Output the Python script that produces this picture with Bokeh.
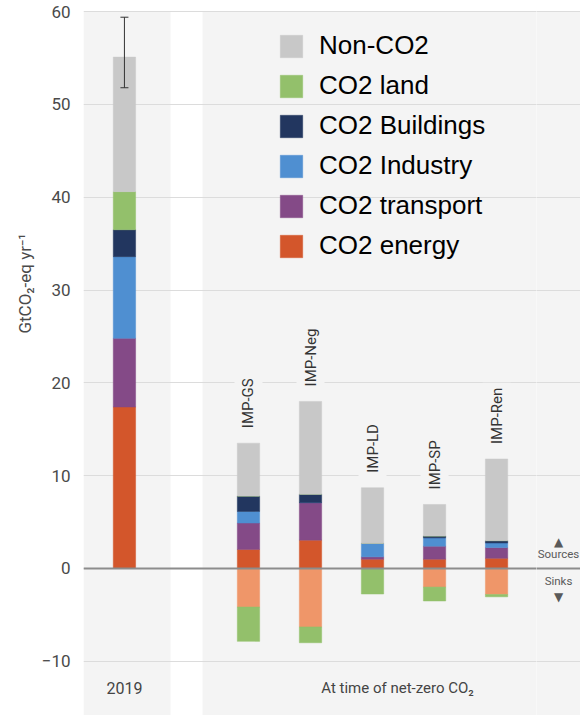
import numpy as np
from bokeh.plotting import figure
from bokeh.models import (FactorRange, Range1d, FixedTicker, Span, BoxAnnotation, Legend,
                          LegendItem, ColumnDataSource, Whisker, TeeHead, Label, Title)
from bokeh.layouts import row
from bokeh.embed import file_html
from bokeh.resources import INLINE
from bokeh.core.properties import value

# ---------------- data ----------------
categories    = ["2019", "IMP-GS", "IMP-Neg", "IMP-LD", "IMP-SP", "IMP-Ren"]
co2_energy    = [17.4, 2.05, 3.05, 1.00, 1.00, 1.10]
co2_transport = [7.4, 2.85, 4.05, 0.25, 1.40, 1.15]
co2_industry  = [8.8, 1.25, 0.00, 1.45, 0.90, 0.50]
co2_buildings = [2.9, 1.65, 0.90, 0.00, 0.20, 0.25]
co2_land      = [4.1, 0.00, 0.00, 0.00, 0.00, 0.00]
non_co2       = [14.5, 5.70, 10.0, 6.00, 3.40, 8.80]
sink_energy   = [0.0, -4.15, -6.30, 0.00, -2.00, -2.80]
sink_land     = [0.0, -3.70, -1.70, -2.75, -1.50, -0.25]
err_low  = [51.8]
err_high = [59.4]
y_ticks = [-10, 0, 10, 20, 30, 40, 50, 60]
legend_labels = ["Non-CO2", "CO2 land", "CO2 Buildings", "CO2 Industry", "CO2 transport", "CO2 energy"]

# ---------------- styles ----------------
C_NON = "#c8c8c8"
C_LAND = "#93c06b"
C_BLD = "#22365f"
C_IND = "#4f8fd1"
C_TRA = "#844a87"
C_ENE = "#d3562b"
C_ENE_SINK = "#ef9669"
PANEL = "#f4f4f4"
GRID = "#dcdcdc"
FONT = "Roboto"
PANEL_TOP = 60

slots = [categories[0], " "] + categories[1:]

totals = [a + b + c + d + e + f for a, b, c, d, e, f in
          zip(co2_energy, co2_transport, co2_industry, co2_buildings, co2_land, non_co2)]

src = ColumnDataSource(dict(cat=categories, energy=co2_energy, transport=co2_transport,
                            industry=co2_industry, buildings=co2_buildings, land=co2_land,
                            nonco2=non_co2, s_energy=sink_energy, s_land=sink_land,
                            total=totals))

p = figure(width=537, height=715,
           x_range=FactorRange(factors=slots, range_padding=0.16, range_padding_units="absolute"),
           y_range=Range1d(-15.84, 61.2),
           x_axis_location=None, output_backend="svg", toolbar_location=None,
           min_border_left=83, min_border_right=0, min_border_top=0, min_border_bottom=0,
           background_fill_color="white", border_fill_color="white", outline_line_color=None)

# grey panels (2019 | net-zero), white gap between them
p.add_layout(BoxAnnotation(right=1.243, top=PANEL_TOP, fill_color=PANEL, fill_alpha=1.0,
                           line_color=None, level="image"))
p.add_layout(BoxAnnotation(left=1.759, top=PANEL_TOP, fill_color=PANEL, fill_alpha=1.0,
                           line_color=None, level="image"))

p.xgrid.visible = False
p.ygrid.ticker = FixedTicker(ticks=y_ticks)
p.ygrid.grid_line_color = GRID
p.ygrid.grid_line_width = 1

ax = p.yaxis[0]
ax.ticker = FixedTicker(ticks=y_ticks)
ax.axis_line_color = None
ax.major_tick_line_color = None
ax.minor_tick_line_color = None
ax.major_tick_out = 0
ax.major_label_standoff = 13
ax.major_label_text_font = FONT
ax.major_label_text_font_size = "17px"
ax.major_label_text_color = "#4a4a4a"

# y-axis title, placed on the upper part of the scale like the original
p.add_layout(Title(text="GtCO\u2082-eq yr\u207b\u00b9", align="right", offset=233,
                   standoff=8, text_font=FONT, text_font_size="17px",
                   text_font_style="normal", text_color="#4a4a4a"), "left")

pos_stack = ["energy", "transport", "industry", "buildings", "land", "nonco2"]
pos_cols = [C_ENE, C_TRA, C_IND, C_BLD, C_LAND, C_NON]
pos_r = p.vbar_stack(pos_stack, x="cat", width=0.36, source=src,
                     fill_color=pos_cols, line_color=pos_cols, line_width=0.5)
neg_stack = ["s_energy", "s_land"]
neg_cols = [C_ENE_SINK, C_LAND]
p.vbar_stack(neg_stack, x="cat", width=0.36, source=src,
             fill_color=neg_cols, line_color=neg_cols, line_width=0.5)

# zero line
p.add_layout(Span(location=0, dimension="width", line_color="#8c8c8c", line_width=2))

# error bar
err_src = ColumnDataSource(dict(cat=categories[:1], lo=err_low, hi=err_high))
wh = Whisker(source=err_src, base="cat", lower="lo", upper="hi",
             line_color="#333333", line_width=1,
             upper_head=TeeHead(size=8, line_color="#333333", line_width=1),
             lower_head=TeeHead(size=8, line_color="#333333", line_width=1))
wh.level = "annotation"
p.add_layout(wh)

# scenario labels above bars
lab_src = ColumnDataSource(dict(cat=categories[1:], top=totals[1:]))
p.text(x="cat", y="top", text="cat", source=lab_src, angle=np.pi / 2,
       text_align="left", text_baseline="middle", y_offset=-10,
       text_font=value(FONT), text_font_size="15px", text_color="#333333",
       background_fill_color=PANEL, padding=5)

# bottom labels
p.text(x=["2019", "IMP-LD"], y=[-12.9, -12.9], text=["2019", "At time of net-zero CO\u2082"],
       x_offset=[0, 25], text_align="center", text_baseline="middle",
       text_font=value(FONT), text_font_size=["16px", "15px"], text_color="#444444")

# legend
order = [5, 4, 3, 2, 1, 0]
items = [LegendItem(label=name, renderers=[pos_r[i]]) for name, i in zip(legend_labels, order)]
legend = Legend(items=items, location=(194, 454), orientation="vertical",
                glyph_width=28, glyph_height=28, label_height=28, label_standoff=14,
                spacing=9, padding=0, margin=0, border_line_color=None,
                background_fill_alpha=0, label_text_font="Liberation Sans",
                label_text_font_size="26px", label_text_color="black")
p.add_layout(legend)

# ---------------- right strip (Sources / Sinks) ----------------
s = figure(width=44, height=715, x_range=Range1d(0, 44), y_range=p.y_range,
           x_axis_location=None, y_axis_location=None, output_backend="svg",
           toolbar_location=None, min_border=0, min_border_left=0, min_border_right=0,
           min_border_top=0, min_border_bottom=0,
           background_fill_color="white", border_fill_color="white", outline_line_color=None,
           styles={"margin-left": "-1px"})
s.add_layout(BoxAnnotation(top=PANEL_TOP, fill_color=PANEL, fill_alpha=1.0,
                           line_color=None, level="image"))
s.xgrid.visible = False
s.ygrid.ticker = FixedTicker(ticks=y_ticks)
s.ygrid.grid_line_color = GRID
s.add_layout(Span(location=0, dimension="width", line_color="#8c8c8c", line_width=2))
for txt, yy, fnt, sz in [("\u25b2", 2.9, "DejaVu Sans", "12px"),
                         ("Sources", 1.55, FONT, "11.5px"),
                         ("Sinks", -1.4, FONT, "11.5px"),
                         ("\u25bc", -3.1, "DejaVu Sans", "12px")]:
    s.add_layout(Label(x=22, y=yy, text=txt, text_align="center", text_baseline="middle",
                       text_font=fnt, text_font_size=sz, text_color="#5a5a5a"))

layout = row(p, s)
open("out.html", "w").write(file_html(layout, INLINE))
